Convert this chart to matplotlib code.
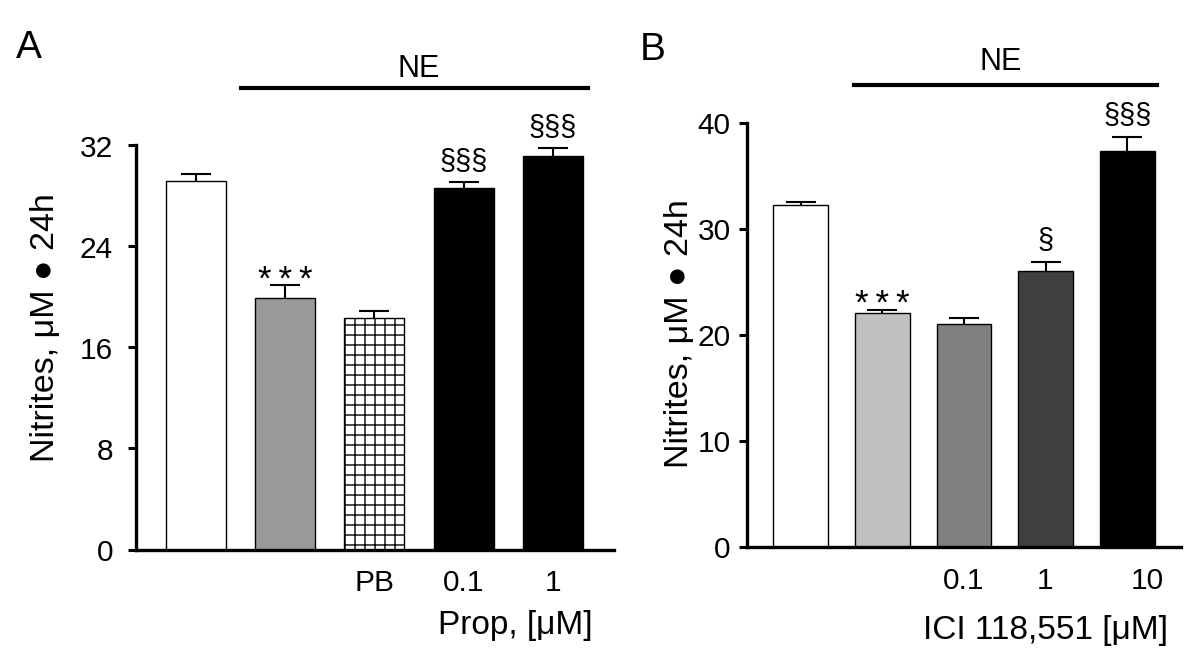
import matplotlib
matplotlib.use("Agg")
import matplotlib.pyplot as plt
import matplotlib.transforms as mtrans

# ---- data ----
a_values = [29.15, 19.9, 18.35, 28.6, 31.15]
a_errors = [0.55, 1.0, 0.5, 0.45, 0.6]
a_colors = ['white', '#999999', 'white', 'black', 'black']
a_hatches = ['', '', '++', '', '']
a_ticklabels = ['', '', 'PB', '0.1', '1']
a_marks = ['', '***', '', '§§§', '§§§']
a_yticks = [0, 8, 16, 24, 32]

b_values = [32.25, 22.05, 21.05, 26.0, 37.35]
b_errors = [0.3, 0.3, 0.57, 0.9, 1.35]
b_colors = ['white', '#c0c0c0', '#808080', '#404040', 'black']
b_ticklabels = ['', '', '0.1', '1', '10']
b_marks = ['', '***', '', '§', '§§§']
b_yticks = [0, 10, 20, 30, 40]

# ---- figure set-up (sizes below are expressed as points at 100 dpi) ----
DPI = 120
K = 100.0 / DPI
W, H = 1200, 664.5
plt.rcParams['font.family'] = ['Liberation Sans', 'DejaVu Sans']
plt.rcParams['hatch.linewidth'] = 1.0 * K

fig = plt.figure(figsize=(W / DPI, H / DPI), dpi=DPI)


def fx(px):
    return px / W


def fy(py):
    return 1 - py / H


def px_axes(left, right, bottom, top):
    return fig.add_axes([left / W, 1 - bottom / H, (right - left) / W, (bottom - top) / H])


def style(ax, yticks, ymax, ypad):
    for s in ['top', 'right']:
        ax.spines[s].set_visible(False)
    ax.spines['left'].set_linewidth(2.4 * K)
    ax.spines['bottom'].set_linewidth(2.4 * K)
    ax.spines['left'].set_bounds(0, ymax)
    ax.set_yticks(yticks)
    ax.tick_params(axis='y', direction='out', length=5.5 * K, width=2.2 * K,
                   labelsize=21.5 * K, pad=ypad * K)
    ax.tick_params(axis='x', length=0, labelsize=21.5 * K, pad=14 * K)


def draw(ax, values, errors, colors, hatches, ticklabels, marks, ymax):
    x = list(range(len(values)))
    ax.bar(x, values, width=0.672, color=colors, edgecolor='black', linewidth=1.0 * K,
           hatch=hatches, zorder=2)
    _, caps, _ = ax.errorbar(x, values, yerr=[[0] * len(values), errors], fmt='none',
                             ecolor='black', elinewidth=1.5 * K, capsize=11 * K,
                             capthick=1.5 * K, zorder=3)
    # only the upper cap is shown in the reference
    for cap in caps:
        if list(cap.get_ydata()) == list(values):
            cap.set_visible(False)
    ax.set_xticks(x)
    ax.set_xticklabels(ticklabels)
    for xi, v, e, m in zip(x, values, errors, marks):
        if m:
            if m.startswith('*'):
                txt = '\u2009'.join(m)
                fs, off = 25, 4
            else:
                txt = m
                fs, off = 21, 15
            ax.annotate(txt, (xi, v + e), xytext=(0, off * K), textcoords='offset points',
                        ha='center', va='center', fontsize=fs * K)
    ax.set_ylim(0, ymax)


# ---- Panel A ----
axA = px_axes(136, 614, 550, 145.7)
draw(axA, a_values, a_errors, a_colors, a_hatches, a_ticklabels, a_marks, 32)
axA.set_xlim(-0.669, 4.684)
style(axA, a_yticks, 32, 11)

# ---- Panel B ----
axB = px_axes(746.7, 1181.3, 547.5, 123.3)
draw(axB, b_values, b_errors, b_colors, [''] * 5, b_ticklabels, b_marks, 40)
axB.set_xlim(-0.662, 4.664)
style(axB, b_yticks, 40, 6)
# the "10" label sits a bit right of its bar in the reference
lbl = axB.get_xticklabels()[4]
lbl.set_transform(lbl.get_transform() + mtrans.ScaledTranslation(20 / DPI, 0, fig.dpi_scale_trans))

# NE bars
fig.add_artist(plt.Line2D([fx(241), fx(588)], [fy(88), fy(88)], color='black', lw=3 * K))
fig.text(fx(419), fy(69), 'NE', ha='center', va='center', fontsize=22 * K)
fig.add_artist(plt.Line2D([fx(854), fx(1157)], [fy(85.5), fy(85.5)], color='black', lw=3 * K))
fig.text(fx(1001), fy(62.5), 'NE', ha='center', va='center', fontsize=22 * K)

# panel letters
fig.text(fx(29), fy(48), 'A', ha='center', va='center', fontsize=28 * K)
fig.text(fx(653), fy(50), 'B', ha='center', va='center', fontsize=28 * K)

# y labels
ylab = 'Nitrites, μM ● 24h'
fig.text(fx(46), fy(328), ylab, rotation=90, ha='center', va='center', fontsize=24.5 * K)
fig.text(fx(680), fy(334), ylab, rotation=90, ha='center', va='center', fontsize=24.5 * K)

# x labels
fig.text(fx(593), fy(634), 'Prop, [μM]', ha='right', va='baseline', fontsize=24 * K)
fig.text(fx(1168), fy(639), 'ICI 118,551 [μM]', ha='right', va='baseline', fontsize=24 * K)

fig.savefig('out.png', dpi=DPI)
